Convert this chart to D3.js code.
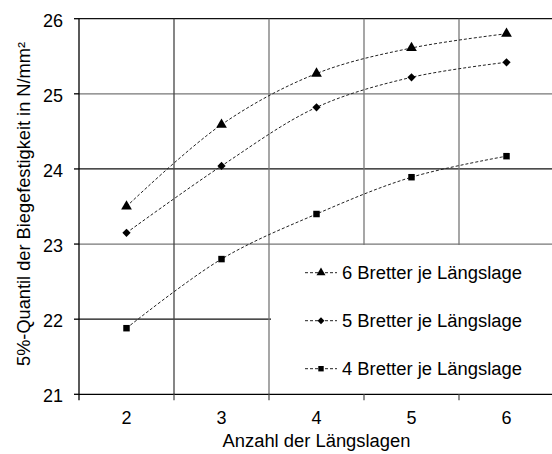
<!DOCTYPE html>
<html>
<head>
<meta charset="utf-8">
<script src="https://cdn.jsdelivr.net/npm/d3@7"></script>
<style>
  html, body { margin: 0; padding: 0; background: #fff; }
  svg { display: block; }
  text { font-family: "Liberation Sans", Arial, sans-serif; fill: #000; }
</style>
</head>
<body>
<svg id="chart" width="552" height="454"></svg>
<script>
// Anzahl der Längslagen
const layers = [2, 3, 4, 5, 6];
// 5%-Quantil der Biegefestigkeit in N/mm² je Brettanzahl
const bretter6 = [23.50, 24.59, 25.27, 25.61, 25.80];
const bretter5 = [23.15, 24.04, 24.82, 25.22, 25.42];
const bretter4 = [21.88, 22.80, 23.40, 23.89, 24.17];
const seriesNames = ["6 Bretter je Längslage", "5 Bretter je Längslage", "4 Bretter je Längslage"];
const yTicks = [21, 22, 23, 24, 25, 26];

const svg = d3.select("#chart");
const plotLeft = 79, plotRight = 554, plotTop = 18.7, plotBottom = 394.3;
const fontSize = 18;

const x = d3.scaleBand().domain(layers).range([plotLeft, plotRight]);
const y = d3.scaleLinear().domain([21, 26]).range([plotBottom, plotTop]);

// legend box bounds
const lg = { x0: 271, y0: 246, x1: 560, y1: 393 };

// horizontal grid lines
const hColors = { 22: "#111", 23: "#777", 24: "#111", 25: "#777", 26: "#111" };
yTicks.filter(v => v > 21).forEach(v => {
  const yy = y(v);
  const inLegend = yy > lg.y0 && yy < lg.y1;
  svg.append("line")
    .attr("x1", plotLeft).attr("x2", inLegend ? lg.x0 : plotRight)
    .attr("y1", yy).attr("y2", yy)
    .attr("stroke", hColors[v]).attr("stroke-width", 1.3);
});

// vertical grid lines at category boundaries
const bounds = layers.slice(1).map(d => x(d));
const vColors = ["#444", "#777", "#777", "#777"];
bounds.forEach((bx, i) => {
  const reachesAxis = bx < lg.x0;
  svg.append("line")
    .attr("x1", bx).attr("x2", bx)
    .attr("y1", plotTop).attr("y2", reachesAxis ? plotBottom : lg.y0 - 1)
    .attr("stroke", vColors[i]).attr("stroke-width", 1.3);
});

// legend background
svg.append("rect")
  .attr("x", lg.x0).attr("y", lg.y0)
  .attr("width", lg.x1 - lg.x0).attr("height", lg.y1 - lg.y0)
  .attr("fill", "#fff");

// y axis
svg.append("line").attr("x1", plotLeft).attr("x2", plotLeft).attr("y1", plotTop).attr("y2", plotBottom + 6)
  .attr("stroke", "#000").attr("stroke-width", 1.3);
yTicks.forEach(v => {
  svg.append("line").attr("x1", plotLeft - 5).attr("x2", plotLeft)
    .attr("y1", y(v)).attr("y2", y(v)).attr("stroke", "#000").attr("stroke-width", 1.3);
  svg.append("text").attr("x", 63).attr("y", y(v) + 1.7).attr("dy", "0.36em")
    .attr("text-anchor", "end").attr("font-size", fontSize).text(v);
});

// x axis
svg.append("line").attr("x1", plotLeft).attr("x2", plotRight).attr("y1", plotBottom).attr("y2", plotBottom)
  .attr("stroke", "#000").attr("stroke-width", 1.3);
bounds.forEach(bx => {
  svg.append("line").attr("x1", bx).attr("x2", bx).attr("y1", plotBottom).attr("y2", plotBottom + 6)
    .attr("stroke", "#555").attr("stroke-width", 1.3);
});
layers.forEach(d => {
  svg.append("text").attr("x", x(d) + x.bandwidth() / 2).attr("y", 418).attr("dy", "0.36em")
    .attr("text-anchor", "middle").attr("font-size", fontSize).text(d);
});

// axis titles
svg.append("text").attr("x", 316.5).attr("y", 441).attr("dy", "0.36em")
  .attr("text-anchor", "middle").attr("font-size", fontSize)
  .attr("textLength", 188).attr("lengthAdjust", "spacingAndGlyphs")
  .text("Anzahl der Längslagen");
svg.append("text").attr("transform", "translate(24,204) rotate(-90)").attr("dy", "0.36em")
  .attr("text-anchor", "middle").attr("font-size", fontSize)
  .attr("textLength", 324).attr("lengthAdjust", "spacingAndGlyphs")
  .text("5%-Quantil der Biegefestigkeit in N/mm²");

// series markers: triangle, diamond (rotated square), square
const markers = [
  { type: d3.symbolTriangle, size: 50, rotate: 0 },
  { type: d3.symbolSquare, size: 34, rotate: 45 },
  { type: d3.symbolSquare, size: 42, rotate: 0 }
];
const allSeries = [bretter6, bretter5, bretter4];
const cx = d => x(d) + x.bandwidth() / 2;
const line = d3.line().x((d, i) => cx(layers[i])).y(d => y(d)).curve(d3.curveCatmullRom.alpha(0.5));

allSeries.forEach((vals, s) => {
  svg.append("path").attr("d", line(vals)).attr("fill", "none")
    .attr("stroke", "#222").attr("stroke-width", 1).attr("stroke-dasharray", "3,2");
  vals.forEach((v, i) => {
    const m = markers[s];
    svg.append("path").attr("d", d3.symbol().type(m.type).size(m.size)())
      .attr("transform", `translate(${cx(layers[i])},${y(v)}) rotate(${m.rotate})`).attr("fill", "#000");
  });
});

// legend entries
const legendY = [272.7, 320.7, 368.7];
seriesNames.forEach((name, s) => {
  const ly = legendY[s];
  const m = markers[s];
  svg.append("line").attr("x1", 305).attr("x2", 337).attr("y1", ly).attr("y2", ly)
    .attr("stroke", "#222").attr("stroke-width", 1).attr("stroke-dasharray", "3,2");
  svg.append("path").attr("d", d3.symbol().type(m.type).size(m.size * 0.7)())
    .attr("transform", `translate(321,${ly}) rotate(${m.rotate})`).attr("fill", "#000");
  svg.append("text").attr("x", 342).attr("y", ly).attr("dy", "0.36em")
    .attr("font-size", fontSize)
    .attr("textLength", 180).attr("lengthAdjust", "spacingAndGlyphs")
    .text(name);
});
</script>
</body>
</html>
